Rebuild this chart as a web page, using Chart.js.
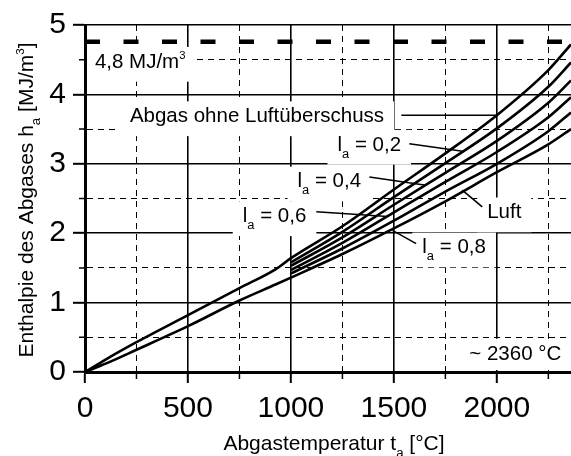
<!DOCTYPE html>
<html>
<head>
<meta charset="utf-8">
<script src="https://cdn.jsdelivr.net/npm/chart.js@4.4.1/dist/chart.umd.min.js"></script>
<style>
html, body { margin: 0; padding: 0; background: #fff; }
</style>
</head>
<body>
<canvas id="chart" width="571" height="456"></canvas>
<script>
// Abgastemperatur t_a in °C
const temps = [0, 100, 250, 500, 750, 925, 1000, 1250, 1500, 1750, 2000, 2250, 2360];
// Enthalpie h_a in MJ/m³
const abgas = [0, 0.18, 0.43, 0.82, 1.21, 1.48, 1.64, 2.10, 2.63, 3.15, 3.70, 4.35, 4.72];
const la02  = [null, null, null, null, null, null, 1.58, 2.02, 2.52, 3.01, 3.51, 4.11, 4.46];
const la04  = [null, null, null, null, null, null, 1.53, 1.94, 2.41, 2.87, 3.33, 3.88, 4.20];
const la06  = [null, null, null, null, null, null, 1.47, 1.86, 2.30, 2.74, 3.17, 3.67, 3.96];
const la08  = [null, null, null, null, null, null, 1.42, 1.78, 2.18, 2.60, 3.00, 3.47, 3.74];
const luft  = [0, 0.12, 0.32, 0.66, 1.03, 1.26, 1.36, 1.70, 2.07, 2.46, 2.88, 3.28, 3.50];

// Grenzlinie 4,8 MJ/m³
const refTemps = [0, 2360];
const refWerte = [4.76, 4.76];

const xTicks = [0, 250, 500, 750, 1000, 1250, 1500, 1750, 2000, 2250];
const xLabels = [0, 500, 1000, 1500, 2000];
const yTicks = [0, 0.5, 1, 1.5, 2, 2.5, 3, 3.5, 4, 4.5, 5];
const yLabels = [0, 1, 2, 3, 4, 5];

const FONT = '"Liberation Sans", Arial, sans-serif';

// Beschriftungen im Diagramm (Datenkoordinaten: linker Rand, Grundlinie)
const notes = [
  { parts: [{ t: '4,8 MJ/m' }, { t: '3', sup: true }], x: 48, y: 4.385 },
  { parts: [{ t: 'Abgas ohne Luftüberschuss' }], x: 218, y: 3.60, line: [1536, 3.70, 2000, 3.70] },
  { parts: [{ t: 'l' }, { t: 'a', sub: true }, { t: ' = 0,2' }], x: 1226, y: 3.19, line: [1575, 3.29, 1834, 3.18] },
  { parts: [{ t: 'l' }, { t: 'a', sub: true }, { t: ' = 0,4' }], x: 1032, y: 2.66, line: [1381, 2.81, 1656, 2.69] },
  { parts: [{ t: 'l' }, { t: 'a', sub: true }, { t: ' = 0,6' }], x: 766, y: 2.16, line: [1123, 2.31, 1469, 2.24] },
  { parts: [{ t: 'l' }, { t: 'a', sub: true }, { t: ' = 0,8' }], x: 1638, y: 1.71, line: [1608, 1.85, 1493, 2.04] },
  { parts: [{ t: 'Luft' }], x: 1953, y: 2.215, line: [1929, 2.38, 1832, 2.62] },
  { parts: [{ t: '~ 2360 °C' }], x: 1866, y: 0.18 }
];
const NOTE_SIZE = 20.5;

function pts(xs, ys) {
  return xs.map((x, i) => ({ x: x, y: ys[i] }));
}

function drawParts(ctx, x, y, parts, size, measureOnly) {
  let cx = x;
  for (const p of parts) {
    const s = p.sub ? size * 0.63 : p.sup ? size * 0.55 : size;
    const dy = p.sub ? size * 0.34 : p.sup ? -size * 0.44 : 0;
    ctx.font = s + 'px ' + FONT;
    if (!measureOnly) ctx.fillText(p.t, cx, y + dy);
    cx += ctx.measureText(p.t).width;
  }
  return cx - x;
}

const isMajorX = v => v % 500 === 0;
const isMajorY = v => Number.isInteger(v);

const notesPlugin = {
  id: 'notes',
  beforeDatasetsDraw(chart) {
    const ctx = chart.ctx, xs = chart.scales.x, ys = chart.scales.y, a = chart.chartArea;
    ctx.save();
    ctx.fillStyle = '#fff';
    for (const n of notes) {
      const px = xs.getPixelForValue(n.x), py = ys.getPixelForValue(n.y);
      const w = drawParts(ctx, px, py, n.parts, NOTE_SIZE, true);
      let l = Math.max(px - 10, a.left + 2), r = Math.min(px + w + 10, a.right);
      let t = Math.max(py - NOTE_SIZE * 0.72 - 6, a.top + 2), b = Math.min(py + 14, a.bottom - 2);
      ctx.fillRect(l, t, r - l, b - t);
    }
    ctx.restore();
  },
  afterDatasetsDraw(chart) {
    const ctx = chart.ctx, xs = chart.scales.x, ys = chart.scales.y, a = chart.chartArea;
    ctx.save();
    ctx.fillStyle = '#000';
    ctx.strokeStyle = '#000';
    ctx.textBaseline = 'alphabetic';
    ctx.textAlign = 'left';
    for (const n of notes) {
      drawParts(ctx, xs.getPixelForValue(n.x), ys.getPixelForValue(n.y), n.parts, NOTE_SIZE, false);
      if (n.line) {
        ctx.lineWidth = 1.6;
        ctx.beginPath();
        ctx.moveTo(xs.getPixelForValue(n.line[0]), ys.getPixelForValue(n.line[1]));
        ctx.lineTo(xs.getPixelForValue(n.line[2]), ys.getPixelForValue(n.line[3]));
        ctx.stroke();
      }
    }
    // kurze Zwischenstriche
    ctx.lineWidth = 1.5;
    ctx.beginPath();
    for (const v of xTicks) {
      if (isMajorX(v)) continue;
      const px = xs.getPixelForValue(v);
      ctx.moveTo(px, a.bottom); ctx.lineTo(px, a.bottom + 7);
    }
    for (const v of yTicks) {
      if (isMajorY(v)) continue;
      const py = ys.getPixelForValue(v);
      ctx.moveTo(a.left, py); ctx.lineTo(a.left - 6, py);
    }
    ctx.stroke();

    // Achsentitel
    const xt = [{ t: 'Abgastemperatur t' }, { t: 'a', sub: true }, { t: ' [°C]' }];
    const wx = drawParts(ctx, 0, 0, xt, 21, true);
    drawParts(ctx, 334 - wx / 2, 450, xt, 21, false);

    const yt = [{ t: 'Enthalpie des Abgases h' }, { t: 'a', sub: true }, { t: ' [MJ/m' }, { t: '3', sup: true }, { t: ']' }];
    const wy = drawParts(ctx, 0, 0, yt, 21, true);
    ctx.translate(33, 200);
    ctx.rotate(-Math.PI / 2);
    drawParts(ctx, -wy / 2, 0, yt, 21, false);
    ctx.restore();
  }
};

const kurve = (label, ys) => ({
  label: label,
  data: pts(temps, ys),
  borderColor: '#000',
  borderWidth: 2.6,
  cubicInterpolationMode: 'monotone',
  pointRadius: 0,
  spanGaps: false
});

new Chart(document.getElementById('chart'), {
  type: 'line',
  data: {
    datasets: [
      kurve('Abgas ohne Luftüberschuss', abgas),
      kurve('la = 0,2', la02),
      kurve('la = 0,4', la04),
      kurve('la = 0,6', la06),
      kurve('la = 0,8', la08),
      kurve('Luft', luft),
      {
        label: '4,8 MJ/m³',
        data: pts(refTemps, refWerte),
        borderColor: '#000',
        borderWidth: 4.5,
        borderDash: [15, 23.5],
        pointRadius: 0
      }
    ]
  },
  options: {
    responsive: false,
    animation: false,
    layout: { padding: { top: 24, left: 0, right: 0, bottom: 0 } },
    plugins: { legend: { display: false }, tooltip: { enabled: false } },
    scales: {
      x: {
        type: 'linear',
        min: 0,
        max: 2360,
        afterBuildTicks: s => { s.ticks = xTicks.map(v => ({ value: v })); },
        afterFit: s => { s.height = 84; },
        ticks: {
          autoSkip: false,
          maxRotation: 0,
          padding: 8,
          color: '#000',
          font: { family: FONT, size: 30 },
          callback: v => xLabels.includes(v) ? String(v) : ''
        },
        grid: {
          color: '#000',
          lineWidth: c => c.tick && isMajorX(c.tick.value) ? 1.6 : 1,
          tickLength: 11,
          tickWidth: 2,
          tickColor: c => c.tick && isMajorX(c.tick.value) ? '#000' : 'rgba(0,0,0,0)'
        },
        border: {
          color: '#000',
          width: 3,
          dash: c => (c.tick && !isMajorX(c.tick.value)) ? [6, 5] : []
        }
      },
      y: {
        min: 0,
        max: 5,
        afterBuildTicks: s => { s.ticks = yTicks.map(v => ({ value: v })); },
        afterFit: s => { s.width = 85; },
        ticks: {
          autoSkip: false,
          padding: 7,
          color: '#000',
          font: { family: FONT, size: 30 },
          callback: v => yLabels.includes(v) ? String(v) : ''
        },
        grid: {
          color: '#000',
          lineWidth: c => c.tick && isMajorY(c.tick.value) ? 1.6 : 1,
          tickLength: 12,
          tickWidth: 2,
          tickColor: c => c.tick && isMajorY(c.tick.value) ? '#000' : 'rgba(0,0,0,0)'
        },
        border: {
          color: '#000',
          width: 3,
          dash: c => (c.tick && !isMajorY(c.tick.value)) ? [6, 5] : []
        }
      }
    }
  },
  plugins: [notesPlugin]
});
</script>
</body>
</html>
